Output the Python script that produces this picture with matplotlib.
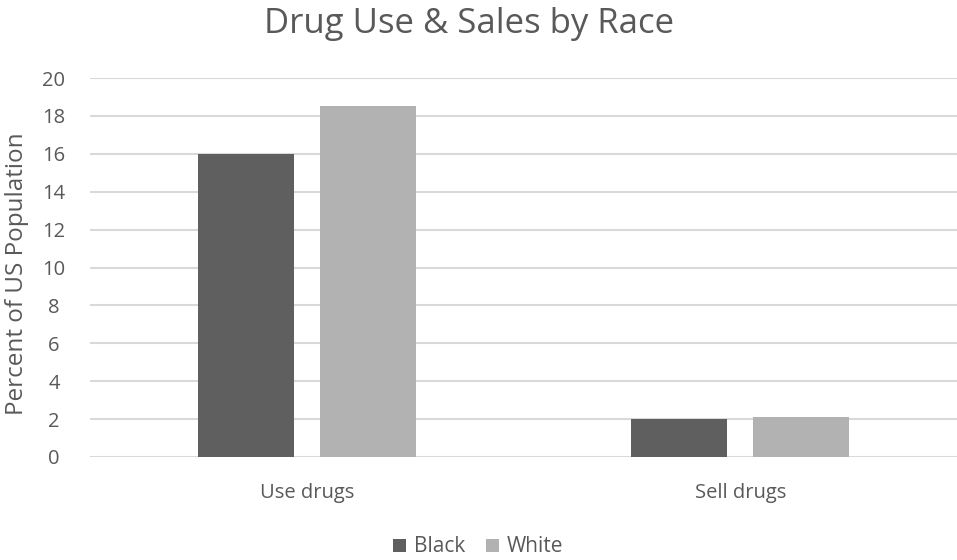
import matplotlib

matplotlib.use("Agg")

import matplotlib.pyplot as plt
import numpy as np

CATEGORIES = ["Use drugs", "Sell drugs"]
SERIES = ["Black", "White"]
BLACK = [16.0, 2.0]
WHITE = [18.5, 2.1]
COLORS = {"Black": "#5f5f5f", "White": "#b2b2b2"}
TEXT = "#595959"

plt.rcParams["font.family"] = ["Open Sans", "DejaVu Sans"]

fig = plt.figure(figsize=(9.57, 5.6), dpi=100)
ax = fig.add_axes([90 / 957, 1 - 457 / 560, 1 - 90 / 957, (457 - 78) / 560])

x = np.arange(len(CATEGORIES))
width = 0.222
offset = 0.141
ax.bar(x - offset, BLACK, width, color=COLORS["Black"], label="Black", zorder=3)
ax.bar(x + offset, WHITE, width, color=COLORS["White"], label="White", zorder=3)

ax.set_xlim(-0.5, 1.5)
ax.set_ylim(0, 20)
ax.set_yticks(range(0, 21, 2))
ax.set_xticks(x)
ax.set_xticklabels(CATEGORIES, fontsize=15)
ax.grid(True, axis="y", color="#d9d9d9", linewidth=1.5, zorder=0)
for spine in ax.spines.values():
    spine.set_visible(False)
ax.tick_params(length=0, labelsize=14.5, colors=TEXT)
ax.tick_params(axis="y", pad=26)
for lbl in ax.get_yticklabels():
    lbl.set_horizontalalignment("center")
ax.tick_params(axis="x", pad=19)

fig.text(17 / 957, 1 - 274 / 560, "Percent of US Population", fontsize=17.5,
         color=TEXT, rotation=90, ha="center", va="center")
fig.text(0.49, 1 - 24 / 560, "Drug Use & Sales by Race", fontsize=25,
         color=TEXT, ha="center", va="center")
fig.legend(loc="center", ncol=2, frameon=False, fontsize=15,
           labelcolor=TEXT, handlelength=0.6, handleheight=0.6,
           handletextpad=0.4, columnspacing=1.0,
           bbox_to_anchor=(0.5, 1 - 547 / 560))

fig.savefig("out.png", dpi=100)
